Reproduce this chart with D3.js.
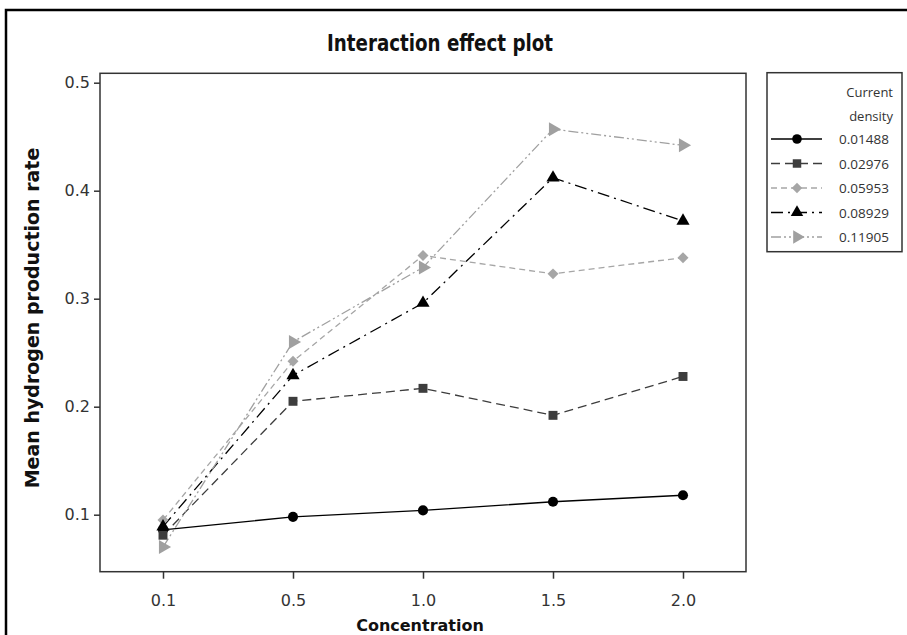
<!DOCTYPE html>
<html><head><meta charset="utf-8">
<script src="https://cdn.jsdelivr.net/npm/d3@7"></script>
<style>body{margin:0;background:#fff}svg{display:block}</style>
</head><body>
<svg id="c" width="907" height="635"></svg>
<script>
const categories = ["0.1","0.5","1.0","1.5","2.0"];
const seriesNames = ["0.01488","0.02976","0.05953","0.08929","0.11905"];
const s1 = [0.086, 0.098, 0.104, 0.112, 0.118];
const s2 = [0.081, 0.205, 0.217, 0.192, 0.228];
const s3 = [0.095, 0.242, 0.340, 0.323, 0.338];
const s4 = [0.089, 0.229, 0.296, 0.412, 0.372];
const s5 = [0.070, 0.260, 0.329, 0.457, 0.442];
const yTicks = [0.1, 0.2, 0.3, 0.4, 0.5];

const styles = [
  {color:"#000", dash:null, sym:d3.symbolCircle, size:80, rot:0},
  {color:"#3d3d3d", dash:"9,5", sym:d3.symbolSquare, size:80, rot:0},
  {color:"#a6a6a6", dash:"6,4", sym:d3.symbolSquare, size:60, rot:45},
  {color:"#000", dash:"12,5,2,5", sym:d3.symbolTriangle, size:75, rot:0},
  {color:"#a0a0a0", dash:"10,3,2,3,2,3", sym:d3.symbolTriangle, size:85, rot:90}
];
const allSeries = [s1,s2,s3,s4,s5];

const svg = d3.select("#c");
svg.append("rect").attr("x",6).attr("y",10).attr("width",940).attr("height",700)
  .attr("fill","none").attr("stroke","#000").attr("stroke-width",2.5);

const L=100, R=746, T=73.3, B=571.7;
const x = d3.scalePoint().domain(categories).range([163,683]);
const y = d3.scaleLinear().domain([0.1,0.5]).range([514.7,82.7]);

svg.append("rect").attr("x",L).attr("y",T).attr("width",R-L).attr("height",B-T)
  .attr("fill","#fff").attr("stroke","#333").attr("stroke-width",1.5);

const fontTick = "'DejaVu Sans', Verdana, sans-serif";
const gy = svg.append("g").attr("transform",`translate(${L},0)`)
  .call(d3.axisLeft(y).tickValues(yTicks).tickFormat(d3.format(".1f")).tickSize(6).tickPadding(4));
const gx = svg.append("g").attr("transform",`translate(0,${B})`)
  .call(d3.axisBottom(x).tickSize(7).tickPadding(16));
[gy,gx].forEach(g=>{
  g.select(".domain").remove();
  g.selectAll("line").attr("stroke","#333").attr("stroke-width",1.5);
  g.selectAll("text").attr("font-family",fontTick).attr("font-size",16).attr("fill","#333");
});

svg.append("text").attr("x",440).attr("y",51).attr("text-anchor","middle")
  .attr("font-family","'DejaVu Sans',sans-serif")
  .attr("font-weight","bold").attr("font-size",23).attr("fill","#111")
  .attr("textLength",226).attr("lengthAdjust","spacingAndGlyphs").text("Interaction effect plot");
svg.append("text").attr("x",420).attr("y",631).attr("text-anchor","middle")
  .attr("font-family",fontTick).attr("font-weight","bold").attr("font-size",16).attr("fill","#111").text("Concentration");
svg.append("text").attr("transform","translate(39,318) rotate(-90)").attr("text-anchor","middle")
  .attr("font-family",fontTick).attr("font-weight","bold").attr("font-size",19).attr("fill","#111").text("Mean hydrogen production rate");

const line = d3.line().x((d,i)=>x(categories[i])).y(d=>y(d));
allSeries.forEach((s,k)=>{
  const st = styles[k];
  svg.append("path").datum(s).attr("d",line).attr("fill","none")
    .attr("stroke",st.color).attr("stroke-width",1.3)
    .attr("stroke-dasharray",st.dash);
});
allSeries.forEach((s,k)=>{
  const st = styles[k];
  svg.append("g").selectAll("path").data(s).join("path")
    .attr("d",d3.symbol().type(st.sym).size(st.size))
    .attr("transform",(d,i)=>`translate(${x(categories[i])},${y(d)}) rotate(${st.rot})`)
    .attr("fill",st.color);
});

const lg = svg.append("g");
lg.append("rect").attr("x",767).attr("y",72.7).attr("width",135).attr("height",179)
  .attr("fill","#fff").attr("stroke","#333").attr("stroke-width",1.5);
const fontLeg = "'Open Sans','DejaVu Sans',sans-serif";
lg.append("text").attr("x",893).attr("y",97).attr("text-anchor","end").attr("font-family",fontLeg)
  .attr("font-size",13).attr("fill","#333").text("Current");
lg.append("text").attr("x",893).attr("y",121).attr("text-anchor","end").attr("font-family",fontLeg)
  .attr("font-size",13).attr("fill","#333").text("density");
const legY = d3.scalePoint().domain(seriesNames).range([139,237]);
seriesNames.forEach((n,k)=>{
  const st = styles[k], yy = legY(n);
  lg.append("line").attr("x1",771).attr("x2",822).attr("y1",yy).attr("y2",yy)
    .attr("stroke",st.color).attr("stroke-width",1.3).attr("stroke-dasharray",st.dash);
  lg.append("path").attr("d",d3.symbol().type(st.sym).size(st.size*0.9))
    .attr("transform",`translate(797,${yy}) rotate(${st.rot})`).attr("fill",st.color);
  lg.append("text").attr("x",839).attr("y",yy+5).attr("font-family",fontLeg)
    .attr("font-size",13.5).attr("fill","#333").text(n);
});
</script>
</body></html>
